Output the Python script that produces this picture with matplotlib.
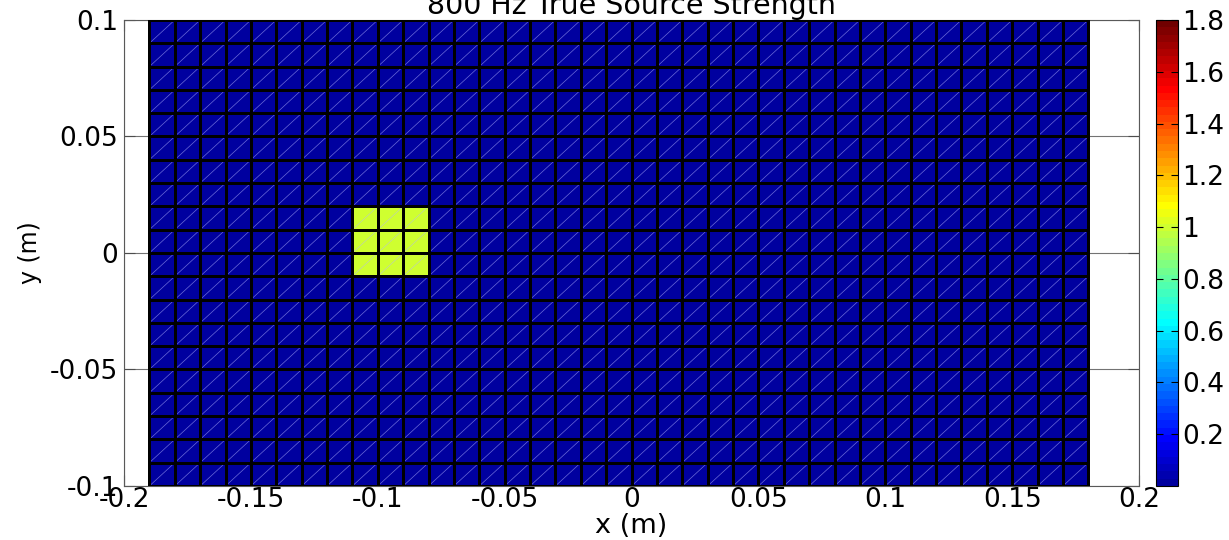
import numpy as np
import matplotlib
matplotlib.use('Agg')
from matplotlib import pyplot as plt
from matplotlib.colors import ListedColormap
from matplotlib.collections import LineCollection

plt.rcParams['font.family'] = ['DejaVu Sans']

# source grid (m)
x_edges = np.round(np.arange(-0.19, 0.18 + 0.005, 0.01), 3)
y_edges = np.round(np.arange(-0.10, 0.10 + 0.005, 0.01), 3)

# true source: one square patch, everything else zero
src_x = [-0.11, -0.08]
src_y = [-0.01, 0.02]
src_level = 1.0
background = 0.0

clim = [0, 1.8]
cbar_ticks = [0.2, 0.4, 0.6, 0.8, 1, 1.2, 1.4, 1.6, 1.8]
cbar_labels = ['0.2', '0.4', '0.6', '0.8', '1', '1.2', '1.4', '1.6', '1.8']
xticks = [-0.2, -0.15, -0.1, -0.05, 0, 0.05, 0.1, 0.15, 0.2]
xticklabels = ['-0.2', '-0.15', '-0.1', '-0.05', '0', '0.05', '0.1', '0.15', '0.2']
yticks = [-0.1, -0.05, 0, 0.05, 0.1]
yticklabels = ['-0.1', '-0.05', '0', '0.05', '0.1']


def matlab_jet(m=64):
    # 64-level jet as MATLAB builds it
    n = int(np.ceil(m / 4))
    u = np.concatenate([np.arange(1, n + 1) / n, np.ones(n - 1), np.arange(n, 0, -1) / n])
    g = int(np.ceil(n / 2)) - (m % 4 == 1) + np.arange(len(u))
    r = g + n
    b = g - n
    cols = np.zeros((m, 3))
    for idx, ch in ((r, 0), (g, 1), (b, 2)):
        ok = (idx >= 1) & (idx <= m)
        cols[idx[ok] - 1, ch] = u[ok]
    return ListedColormap(cols)


xc = 0.5 * (x_edges[:-1] + x_edges[1:])
yc = 0.5 * (y_edges[:-1] + y_edges[1:])
X, Y = np.meshgrid(xc, yc)
strength = np.full(X.shape, background)
inside = (X > src_x[0]) & (X < src_x[1]) & (Y > src_y[0]) & (Y < src_y[1])
strength[inside] = src_level

fig = plt.figure(figsize=(12.29, 5.40), dpi=100)
ax = fig.add_axes([0.1009, 0.1, 0.8259, 0.863])
cax = fig.add_axes([0.9406, 0.1, 0.0179, 0.863])

cmap = matlab_jet(64)
mesh = ax.pcolormesh(x_edges, y_edges, strength, cmap=cmap, vmin=clim[0], vmax=clim[1],
                     edgecolors='none', zorder=2)

# triangle diagonals of each element
segs = []
for i in range(len(x_edges) - 1):
    for j in range(len(y_edges) - 1):
        segs.append([(x_edges[i], y_edges[j]), (x_edges[i + 1], y_edges[j + 1])])
ax.add_collection(LineCollection(segs, colors=(0.7, 0.7, 1.0), linewidths=0.5,
                                 alpha=0.6, zorder=3))
# element edges
ax.pcolormesh(x_edges, y_edges, strength, facecolor='none', edgecolors='black',
              linewidth=0.75, zorder=4)

ax.set_xlim(-0.2, 0.2)
ax.set_ylim(-0.1, 0.1)
ax.set_xticks(xticks)
ax.set_xticklabels(xticklabels)
ax.set_yticks(yticks)
ax.set_yticklabels(yticklabels)
ax.grid(True, color='0.45', linewidth=0.8, zorder=0)
ax.set_axisbelow(True)
ax.tick_params(direction='in', top=True, right=True, length=8, width=0.8,
               labelsize=19, colors='0.3', labelcolor='black')
ax.tick_params(axis='x', pad=1)
ax.tick_params(axis='y', pad=4)
for s in ax.spines.values():
    s.set_color('0.35')
ax.set_xlabel('x (m)', fontsize=19.5)
ax.xaxis.set_label_coords(0.5, -0.057)
ax.set_ylabel('y (m)', fontsize=17)
ax.yaxis.set_label_coords(-0.081, 0.5)
ax.set_title('800 Hz True Source Strength', fontsize=20.5, pad=4)

cb = fig.colorbar(mesh, cax=cax, ticks=cbar_ticks)
cb.ax.set_yticklabels(cbar_labels)
cb.ax.tick_params(direction='in', left=True, right=True, length=5, width=0.8,
                  labelsize=19, pad=3)
cb.outline.set_edgecolor('black')

fig.savefig('out.png', dpi=100)
